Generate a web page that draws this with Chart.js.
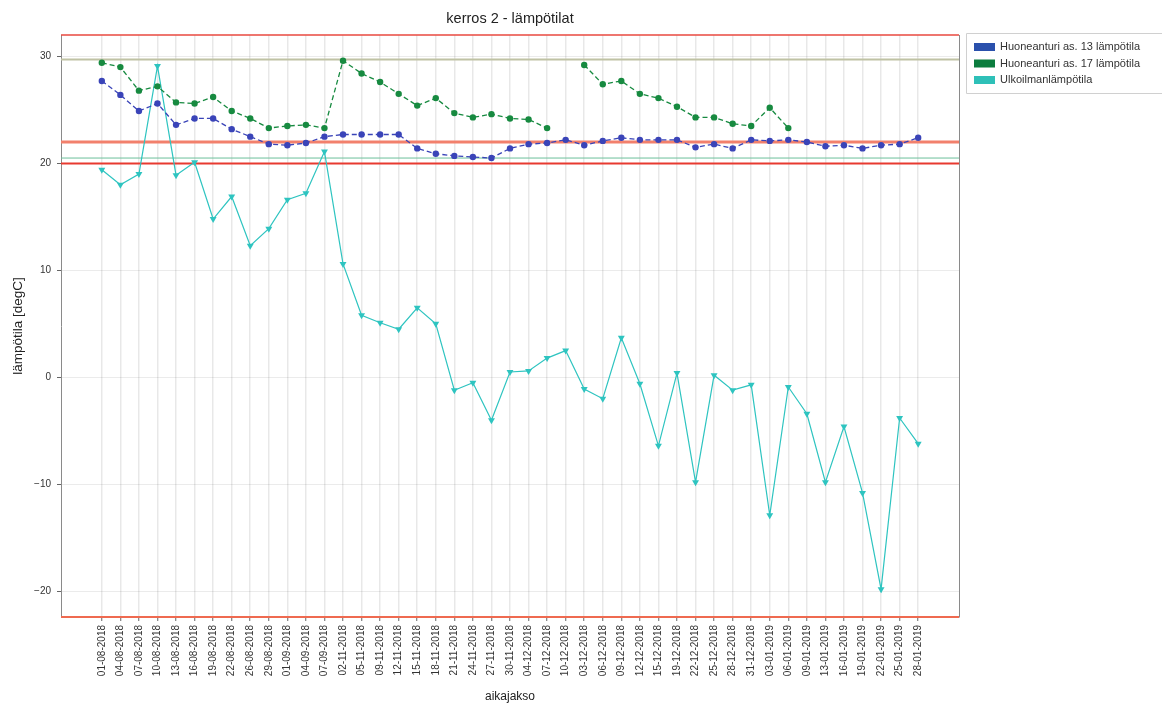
<!DOCTYPE html>
<html><head><meta charset="utf-8">
<script src="https://cdn.jsdelivr.net/npm/chart.js@4.4.1/dist/chart.umd.min.js"></script>
<style>html,body{margin:0;padding:0;background:#fff}#wrap{width:1162px;height:708px;position:relative}</style>
</head><body><div id="wrap"><canvas id="c"></canvas></div>
<script>
const dates = ["01-08-2018","04-08-2018","07-08-2018","10-08-2018","13-08-2018","16-08-2018","19-08-2018","22-08-2018","26-08-2018","29-08-2018","01-09-2018","04-09-2018","07-09-2018","02-11-2018","05-11-2018","09-11-2018","12-11-2018","15-11-2018","18-11-2018","21-11-2018","24-11-2018","27-11-2018","30-11-2018","04-12-2018","07-12-2018","10-12-2018","03-12-2018","06-12-2018","09-12-2018","12-12-2018","15-12-2018","19-12-2018","22-12-2018","25-12-2018","28-12-2018","31-12-2018","03-01-2019","06-01-2019","09-01-2019","13-01-2019","16-01-2019","19-01-2019","22-01-2019","25-01-2019","28-01-2019"];
const sensor13 = [27.7,26.4,24.9,25.6,23.6,24.2,24.2,23.2,22.5,21.8,21.7,21.9,22.5,22.7,22.7,22.7,22.7,21.4,20.9,20.7,20.6,20.5,21.4,21.8,21.9,22.2,21.7,22.1,22.4,22.2,22.2,22.2,21.5,21.8,21.4,22.2,22.1,22.2,22.0,21.6,21.7,21.4,21.7,21.8,22.4];
const sensor17 = [29.4,29.0,26.8,27.2,25.7,25.6,26.2,24.9,24.2,23.3,23.5,23.6,23.3,29.6,28.4,27.6,26.5,25.4,26.1,24.7,24.3,24.6,24.2,24.1,23.3,null,29.2,27.4,27.7,26.5,26.1,25.3,24.3,24.3,23.7,23.5,25.2,23.3,null,null,null,null,null,null,null];
const outdoor = [19.4,18.0,19.0,29.1,18.9,20.1,14.8,16.9,12.3,13.9,16.6,17.2,21.1,10.6,5.8,5.1,4.5,6.5,5.0,-1.2,-0.5,-4.0,0.5,0.6,1.8,2.5,-1.1,-2.0,3.7,-0.6,-6.4,0.4,-9.8,0.2,-1.2,-0.7,-12.9,-0.9,-3.4,-9.8,-4.6,-10.8,-19.8,-3.8,-6.2];
const seriesNames = ["Huoneanturi as. 13 lämpötila","Huoneanturi as. 17 lämpötila","Ulkoilmanlämpötila"];
const refLines = [32, 29.7, 22, 20.5, 20, -22.4];
const yTicks = [-20,-10,0,10,20,30];

const FONT = "'Liberation Sans', Arial, sans-serif";
const colors = ["#3a44b8","#178a40","#2ec4c0"];
const legendColors = ["#2a50ac","#0b7d3e","#2ec0b8"];
const refStyles = [
  {c:"#e8483f", w:1.5},
  {c:"#bfc2a4", w:2},
  {c:"#f2806c", w:3},
  {c:"#6cbf9a", w:1},
  {c:"#e83a30", w:2},
  {c:"#ef6a50", w:2}
];

const toXY = arr => arr.map((v,i)=>({x:i,y:v}));

const extras = {
  id:'extras',
  beforeDatasetsDraw(chart){
    const {ctx, chartArea:a, scales:{y}} = chart;
    ctx.save();
    refLines.forEach((v,i)=>{
      const py = y.getPixelForValue(v);
      ctx.strokeStyle = refStyles[i].c; ctx.lineWidth = refStyles[i].w;
      ctx.beginPath(); ctx.moveTo(a.left, py); ctx.lineTo(a.right, py); ctx.stroke();
    });
    ctx.strokeStyle = "#8a8a8a"; ctx.lineWidth = 1;
    ctx.beginPath(); ctx.moveTo(a.right+0.5, a.top); ctx.lineTo(a.right+0.5, a.bottom); ctx.stroke();
    ctx.restore();
  },
  afterDraw(chart){
    const {ctx, chartArea:a} = chart;
    ctx.save();
    ctx.fillStyle = "#222"; ctx.font = "14.5px " + FONT; ctx.textAlign = "center"; ctx.textBaseline = "middle";
    ctx.fillText("kerros 2 - lämpötilat", (a.left+a.right)/2, 19);
    const lx = a.right + 7, ly = a.top - 2;
    ctx.fillStyle = "rgba(255,255,255,0.9)"; ctx.strokeStyle = "#d0d0d0"; ctx.lineWidth = 1;
    ctx.beginPath(); ctx.rect(lx+0.5, ly+0.5, 220, 60); ctx.fill(); ctx.stroke();
    ctx.font = "11px " + FONT; ctx.textAlign = "left";
    seriesNames.forEach((n,i)=>{
      const cy = ly + 14 + i*16.5;
      ctx.fillStyle = legendColors[i]; ctx.fillRect(lx+8, cy-4, 21, 8);
      ctx.fillStyle = "#333"; ctx.fillText(n, lx+34, cy);
    });
    ctx.restore();
  }
};

new Chart(document.getElementById('c'), {
  type:'line',
  data:{
    datasets:[
      {label:seriesNames[0], data:toXY(sensor13), borderColor:colors[0], backgroundColor:colors[0], borderWidth:1.3, borderDash:[5,3], pointRadius:3.2, pointStyle:'circle', pointBorderWidth:0, spanGaps:false},
      {label:seriesNames[1], data:toXY(sensor17), borderColor:colors[1], backgroundColor:colors[1], borderWidth:1.3, borderDash:[5,3], pointRadius:3.2, pointStyle:'circle', pointBorderWidth:0, spanGaps:false},
      {label:seriesNames[2], data:toXY(outdoor), borderColor:colors[2], backgroundColor:colors[2], borderWidth:1.2, pointRadius:4, pointStyle:'triangle', pointRotation:180, pointBorderWidth:0}
    ]
  },
  options:{
    responsive:true, maintainAspectRatio:false, animation:false,
    layout:{padding:{top:35,right:203,left:0,bottom:0}},
    plugins:{legend:{display:false}, tooltip:{enabled:false}},
    elements:{line:{tension:0}},
    scales:{
      x:{type:'linear', min:-2.2, max:46.2,
        afterBuildTicks(s){ s.ticks = dates.map((_,i)=>({value:i})); },
        afterFit(s){ s.height = 91; },
        ticks:{autoSkip:false, maxRotation:90, minRotation:90, padding:4, color:"#333", font:{family:FONT,size:10}, callback:(v)=>dates[v]},
        grid:{color:"rgba(0,0,0,0.09)", lineWidth:1.5, tickLength:4, tickColor:"#666", tickWidth:1},
        border:{color:"#8a8a8a", width:1},
        title:{display:true, text:"aikajakso", color:"#222", font:{family:FONT,size:12}, padding:{top:0,bottom:4}}
      },
      y:{type:'linear', min:-22.4, max:32,
        afterBuildTicks(s){ s.ticks = yTicks.map(v=>({value:v})); },
        afterFit(s){ s.width = 61; },
        ticks:{color:"#333", padding:6, font:{family:FONT,size:10}, callback:(v)=>String(v).replace('-', '\u2212')},
        grid:{color:"rgba(0,0,0,0.08)", lineWidth:1, tickLength:4, tickColor:"#666"},
        border:{color:"#8a8a8a", width:1},
        title:{display:true, text:"lämpötila [degC]", color:"#222", font:{family:FONT,size:13.5}, padding:{top:10,bottom:0}}
      }
    }
  },
  plugins:[extras]
});
</script></body></html>
